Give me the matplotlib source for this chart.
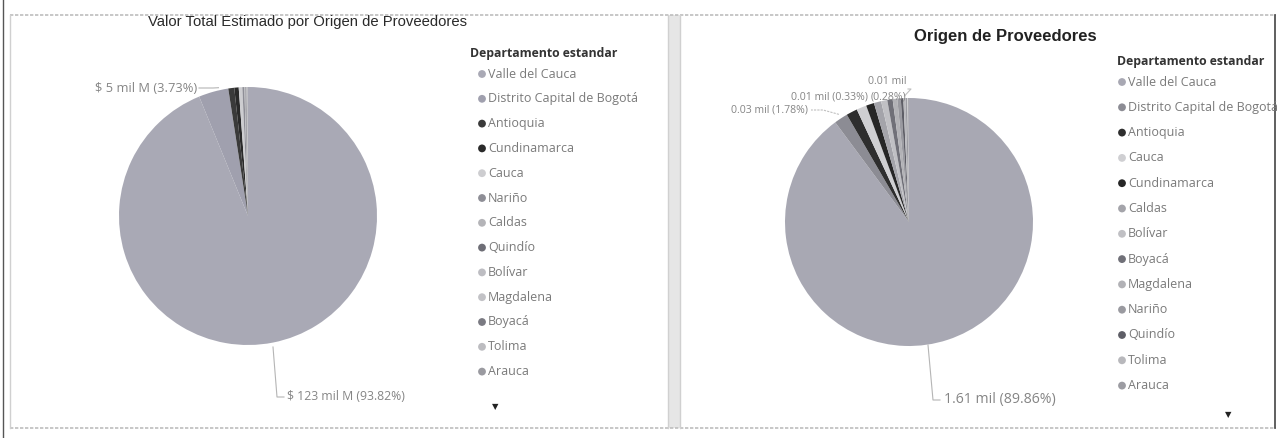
import matplotlib
matplotlib.use("Agg")
import matplotlib.pyplot as plt
from matplotlib.patches import Rectangle, Circle
import numpy as np

W, H = 1279, 438

# ---------------- data ----------------
left_title = "Valor Total Estimado por Origen de Proveedores"
right_title = "Origen de Proveedores"
legend_title = "Departamento estandar"

left_depts = ["Valle del Cauca", "Distrito Capital de Bogotá", "Antioquia", "Cundinamarca",
              "Cauca", "Nariño", "Caldas", "Quindío", "Bolívar", "Magdalena", "Boyacá",
              "Tolima", "Arauca"]
left_pct = [93.82, 3.73, 0.75, 0.55, 0.45, 0.25, 0.15, 0.10, 0.07, 0.05, 0.04, 0.03, 0.01]
left_colors = ["#a9a9b5", "#a0a0ae", "#3a3a3a", "#2a2a2a", "#cdcdd0", "#8e8e96", "#b4b4b8",
               "#6e6e76", "#bdbdc2", "#c2c2c6", "#7a7a82", "#bcbcc0", "#9a9aa0"]
left_labels = {0: "$ 123 mil M (93.82%)", 1: "$ 5 mil M (3.73%)"}

right_depts = ["Valle del Cauca", "Distrito Capital de Bogotá", "Antioquia", "Cauca",
               "Cundinamarca", "Caldas", "Bolívar", "Boyacá", "Magdalena", "Nariño",
               "Quindío", "Tolima", "Arauca", "Risaralda", "Santander"]
right_pct = [89.86, 1.78, 1.45, 1.30, 1.05, 0.95, 0.80, 0.70, 0.60, 0.45, 0.33, 0.28, 0.25, 0.12, 0.08]
right_colors = ["#a8a8b3", "#8c8c94", "#2e2e2e", "#cfcfd2", "#262626", "#a4a4aa", "#c0c0c4",
                "#707078", "#b2b2b6", "#9a9aa0", "#5e5e66", "#b8b8bc", "#9c9ca2", "#d4d4d6", "#808088"]
right_labels = {0: "1.61 mil (89.86%)", 1: "0.03 mil (1.78%)",
                10: "0.01 mil (0.33%)", 11: "0.01 mil\n(0.28%)"}
right_legend_n = 13

# ---------------- figure ----------------
fig = plt.figure(figsize=(W / 100, H / 100), dpi=100)
fig.patch.set_facecolor("white")
bg = fig.add_axes([0, 0, 1, 1])
bg.set_xlim(0, W)
bg.set_ylim(H, 0)
bg.axis("off")
bg.patch.set_visible(False)
bg.set_zorder(5)

# panel frames and separators
bg.add_patch(Rectangle((668, 15), 12, 413, facecolor="#e6e6e6", edgecolor="none"))
bg.plot([10, 1276], [15, 15], color="#bdbdbd", lw=1.2, ls=(0, (2, 1)))
bg.plot([10, 1276], [428, 428], color="#bdbdbd", lw=1.2, ls=(0, (2, 1)))
bg.plot([3, 3], [0, 438], color="#555555", lw=1.0)
bg.plot([10, 10], [15, 428], color="#d0d0d0", lw=1.0)
bg.plot([668, 668], [15, 428], color="#d0d0d0", lw=1.0)
bg.plot([680, 680], [15, 428], color="#d0d0d0", lw=1.0)
bg.plot([1275, 1275], [15, 428], color="#444444", lw=1.2)

FONT = ["Open Sans", "DejaVu Sans"]
TXT = "#7a7a7a"
LAB = "#858585"

bg.text(308, 22, left_title, ha="center", va="center", fontsize=10.7,
        family=["Liberation Sans", "DejaVu Sans"], color="#2a2a2a")
bg.text(1005, 36, right_title, ha="center", va="center", fontsize=12, fontweight="bold",
        family=["Liberation Sans", "DejaVu Sans"], color="#222222")


def draw_pie(cx, cy, r, pct, colors):
    ax = fig.add_axes([(cx - r) / W, 1 - (cy + r) / H, 2 * r / W, 2 * r / H])
    ax.patch.set_visible(False)
    wedges, _ = ax.pie(pct, colors=colors, startangle=90, counterclock=False, radius=1,
                       wedgeprops=dict(linewidth=0))
    ax.set_xlim(-1, 1)
    ax.set_ylim(-1, 1)
    ax.axis("off")
    return wedges


def mid_px(w, cx, cy, r):
    ang = np.deg2rad((w.theta1 + w.theta2) / 2)
    return cx + r * np.cos(ang), cy - r * np.sin(ang)


# ---------- left pie ----------
lcx, lcy, lr = 248, 216, 129
lw_ = draw_pie(lcx, lcy, lr, left_pct, left_colors)
px, py = mid_px(lw_[1], lcx, lcy, lr)
bg.plot([px + 5, 213, 199], [py - 4, 88, 88], color="#b5b5b5", lw=0.8)
bg.text(197, 88, left_labels[1], ha="right", va="center", fontsize=9.3, family=FONT, color=LAB)
bg.plot([273, 277, 284], [347, 397, 397], color="#b5b5b5", lw=0.8)
bg.text(287, 397, left_labels[0], ha="left", va="center", fontsize=8.8, family=FONT, color=LAB)

# left legend
bg.text(470, 54, legend_title, fontsize=8.8, fontweight="bold",
        family=FONT, color="#333333", va="center", ha="left")
for i, (n, c) in enumerate(zip(left_depts, left_colors)):
    yy = 74 + i * 24.8
    bg.add_patch(Circle((482, yy), 3.9, facecolor=c, edgecolor="none"))
    bg.text(488, yy, n, fontsize=9, family=FONT, color=TXT, va="center", ha="left")
bg.text(495, 407, "▼", ha="center", va="center", fontsize=6, color="#222222",
        family=["DejaVu Sans"])

# ---------- right pie ----------
rcx, rcy, rr = 909, 222, 124
rw_ = draw_pie(rcx, rcy, rr, right_pct, right_colors)
px, py = mid_px(rw_[1], rcx, rcy, rr)
bg.plot([px - 2, 823, 811], [py - 4, 110, 110], color="#c0c0c0", lw=0.8, ls=(0, (2, 1)))
bg.text(808, 110, right_labels[1], ha="right", va="center", fontsize=7.6, family=FONT, color=LAB)
bg.text(868, 97, right_labels[10], ha="right", va="center", fontsize=7.6, family=FONT, color=LAB)
px, py = mid_px(rw_[11], rcx, rcy, rr)
bg.plot([px, 911, 908], [py - 2, 89, 89], color="#c0c0c0", lw=0.8)
l1, l2 = right_labels[11].split("\n")
bg.text(906, 82, l1, ha="right", va="center", fontsize=7.6, family=FONT, color=LAB)
bg.text(906, 97, l2, ha="right", va="center", fontsize=7.6, family=FONT, color=LAB)
bg.plot([928, 933, 940], [345, 400, 400], color="#b5b5b5", lw=0.8)
bg.text(944, 400, right_labels[0], ha="left", va="center", fontsize=10.2, family=FONT, color=LAB)

# right legend, clipped at the panel edge
clip = Rectangle((680, 15), 593, 413, transform=bg.transData, facecolor="none", edgecolor="none")
bg.add_patch(clip)
for i in range(right_legend_n):
    yy = 82 + i * 25.3
    bg.add_patch(Circle((1122, yy), 3.9, facecolor=right_colors[i], edgecolor="none"))
    t = bg.text(1128, yy, right_depts[i], fontsize=9, family=FONT, color=TXT,
                va="center", ha="left")
    t.set_clip_path(clip)
t = bg.text(1117, 62, legend_title, fontsize=8.8, fontweight="bold", family=FONT,
            color="#333333", va="center", ha="left")
t.set_clip_path(clip)
bg.text(1228, 415, "▼", ha="center", va="center", fontsize=6, color="#222222",
        family=["DejaVu Sans"])

fig.savefig("out.png", dpi=100, facecolor="white")
